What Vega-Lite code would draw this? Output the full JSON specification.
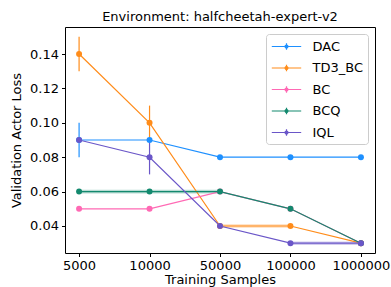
{
  "$schema": "https://vega.github.io/schema/vega-lite/v6.json",
  "width": 310,
  "height": 226,
  "autosize": "none",
  "padding": {"left": 65, "top": 27, "right": 16, "bottom": 34},
  "config": {
    "font": "DejaVu Sans",
    "view": {"stroke": "black", "strokeWidth": 1},
    "axis": {"grid": false, "domainColor": "black", "tickColor": "black", "tickSize": 3.5, "labelFontSize": 13, "titleFontSize": 13, "labelColor": "black", "titleColor": "black", "titleFontWeight": "normal", "labelPadding": 3, "domain": false}
  },
  "title": {"text": "Environment: halfcheetah-expert-v2", "fontSize": 13, "fontWeight": "normal", "color": "black", "offset": 3},
  "data": {"values": [
    {"series": "DAC", "x": "5000", "y": 0.09, "lo": 0.08, "hi": 0.10},
    {"series": "DAC", "x": "10000", "y": 0.09},
    {"series": "DAC", "x": "50000", "y": 0.08},
    {"series": "DAC", "x": "100000", "y": 0.08},
    {"series": "DAC", "x": "1000000", "y": 0.08},
    {"series": "TD3_BC", "x": "5000", "y": 0.14, "lo": 0.13, "hi": 0.15},
    {"series": "TD3_BC", "x": "10000", "y": 0.10, "lo": 0.09, "hi": 0.11},
    {"series": "TD3_BC", "x": "50000", "y": 0.04, "blo": 0.039, "bhi": 0.041},
    {"series": "TD3_BC", "x": "100000", "y": 0.04, "blo": 0.039, "bhi": 0.041},
    {"series": "TD3_BC", "x": "1000000", "y": 0.03},
    {"series": "BC", "x": "5000", "y": 0.05},
    {"series": "BC", "x": "10000", "y": 0.05},
    {"series": "BC", "x": "50000", "y": 0.06},
    {"series": "BC", "x": "100000", "y": 0.05},
    {"series": "BC", "x": "1000000", "y": 0.03},
    {"series": "BCQ", "x": "5000", "y": 0.06, "blo": 0.0589, "bhi": 0.0611},
    {"series": "BCQ", "x": "10000", "y": 0.06, "blo": 0.0589, "bhi": 0.0611},
    {"series": "BCQ", "x": "50000", "y": 0.06, "blo": 0.0589, "bhi": 0.0611},
    {"series": "BCQ", "x": "100000", "y": 0.05},
    {"series": "BCQ", "x": "1000000", "y": 0.03},
    {"series": "IQL", "x": "5000", "y": 0.09},
    {"series": "IQL", "x": "10000", "y": 0.08, "lo": 0.07, "hi": 0.09},
    {"series": "IQL", "x": "50000", "y": 0.04},
    {"series": "IQL", "x": "100000", "y": 0.03, "blo": 0.029, "bhi": 0.031},
    {"series": "IQL", "x": "1000000", "y": 0.03, "blo": 0.029, "bhi": 0.031}
  ]},
  "encoding": {
    "x": {"field": "x", "type": "ordinal", "sort": ["5000", "10000", "50000", "100000", "1000000"],
      "scale": {"type": "point", "padding": 0.2},
      "axis": {"title": "Training Samples", "labelAngle": 0, "titlePadding": 1}},
    "color": {"field": "series", "type": "nominal",
      "sort": ["DAC", "TD3_BC", "BC", "BCQ", "IQL"],
      "scale": {"domain": ["DAC", "TD3_BC", "BC", "BCQ", "IQL"], "range": ["#1E90FF", "#FF8C1A", "#FF69B4", "#13896E", "#6A56C8"]},
      "legend": {"title": null, "orient": "top-right", "offset": 7, "labelFontSize": 13, "labelColor": "black",
        "symbolType": "M-2.1,0H2.1M0,-0.46V0.46M0.21,0A0.21,0.21,0,1,1,-0.21,0A0.21,0.21,0,1,1,0.21,0Z",
        "symbolSize": 196, "symbolStrokeWidth": 1.2, "rowPadding": 6.5, "labelOffset": 18, "symbolOffset": 8,
        "padding": 4.5, "strokeColor": "#cccccc", "cornerRadius": 3, "fillColor": "rgba(255,255,255,0.8)",
        "encode": {"symbols": {"update": {"fill": {"scale": "color", "field": "value"}, "stroke": {"scale": "color", "field": "value"}, "opacity": {"value": 1}}}}}
    },
    "detail": {"field": "series"}
  },
  "layer": [
    {
      "transform": [{"filter": "datum.blo != null"}],
      "mark": {"type": "area", "opacity": 0.3},
      "encoding": {
        "y": {"field": "blo", "type": "quantitative"},
        "y2": {"field": "bhi"}
      }
    },
    {
      "mark": {"type": "line", "strokeWidth": 1.2},
      "encoding": {
        "y": {"field": "y", "type": "quantitative",
          "scale": {"domain": [0.0243, 0.1557], "nice": false, "zero": false},
          "axis": {"title": "Validation Actor Loss", "values": [0.04, 0.06, 0.08, 0.10, 0.12, 0.14], "format": ".2f", "titlePadding": 6}}
      }
    },
    {
      "transform": [{"filter": "datum.lo != null"}],
      "mark": {"type": "rule", "strokeWidth": 1.2},
      "encoding": {
        "y": {"field": "lo", "type": "quantitative"},
        "y2": {"field": "hi"}
      }
    },
    {
      "mark": {"type": "point", "filled": true, "opacity": 1, "size": 36},
      "encoding": {
        "y": {"field": "y", "type": "quantitative"}
      }
    }
  ]
}
